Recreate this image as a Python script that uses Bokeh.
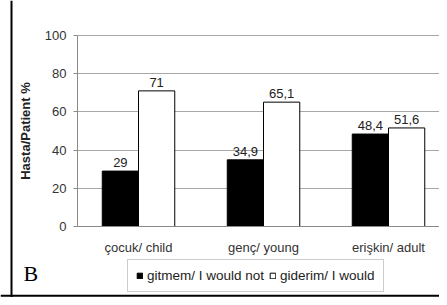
from bokeh.plotting import figure
from bokeh.models import (Range1d, FixedTicker, ColumnDataSource, LabelSet, Label, Legend,
                          LegendItem, Span)
from bokeh.embed import file_html
from bokeh.resources import INLINE
from bokeh.core.properties import value

categories = ["çocuk/ child", "genç/ young", "erişkin/ adult"]
would_not = [29, 34.9, 48.4]
would = [71, 65.1, 51.6]
would_not_lbl = ["29", "34,9", "48,4"]
would_lbl = ["71", "65,1", "51,6"]
series_names = ["gitmem/ I would not", "giderim/ I would"]
y_ticks = [0, 20, 40, 60, 80, 100]

FONT = "Liberation Sans"
pos = list(range(len(categories)))
off = 0.145
bw = 0.29

# plotting area geometry (data units)
X0, X1 = -0.488, 2.408     # left edge of chart area / right cut
XMIN = -1.104              # canvas left
YMIN, YMAX = -37.17, 118.32

p = figure(width=439, height=297, output_backend="svg", toolbar_location=None,
           x_range=Range1d(XMIN, X1), y_range=Range1d(YMIN, YMAX),
           min_border_left=0, min_border_right=0, min_border_top=0, min_border_bottom=0)
p.outline_line_color = None
p.background_fill_color = "white"

src_a = ColumnDataSource(dict(x=[i - off for i in pos], top=would_not, lbl=would_not_lbl))
src_b = ColumnDataSource(dict(x=[i + off for i in pos], top=would, lbl=would_lbl))

r1 = p.vbar(x="x", top="top", width=bw, source=src_a, fill_color="black", line_color="black", line_width=1)
r2 = p.vbar(x="x", top="top", width=bw, source=src_b, fill_color="white", line_color="black", line_width=1)

for s in (src_a, src_b):
    p.add_layout(LabelSet(x="x", y="top", text="lbl", source=s, y_offset=4, text_align="center",
                          text_baseline="bottom", text_font=value(FONT), text_font_size="13px",
                          text_color="#222222"))

# x axis at y = 0
xa = p.xaxis[0]
xa.fixed_location = 0
xa.bounds = (X0, X1)
xa.ticker = FixedTicker(ticks=pos)
xa.major_label_overrides = {i: c for i, c in zip(pos, categories)}
xa.major_tick_line_color = None
xa.minor_tick_line_color = None
xa.axis_line_color = "#8a8a8a"
xa.major_label_text_font = FONT
xa.major_label_text_font_size = "13px"
xa.major_label_text_color = "#333333"
xa.major_label_standoff = 7

# y axis at chart-area left edge
ya = p.yaxis[0]
ya.fixed_location = X0
ya.bounds = (0, 100)
ya.ticker = FixedTicker(ticks=y_ticks)
ya.axis_line_color = "#8a8a8a"
ya.major_tick_line_color = "#8a8a8a"
ya.major_tick_out = 4
ya.major_tick_in = 0
ya.minor_tick_line_color = None
ya.major_label_text_font = FONT
ya.major_label_text_font_size = "13px"
ya.major_label_text_color = "#333333"
ya.major_label_standoff = 7
ya.axis_label = "Hasta/Patient %"
ya.axis_label_text_font = FONT
ya.axis_label_text_font_style = "bold"
ya.axis_label_text_font_size = "13px"
ya.axis_label_text_color = "#222222"
ya.axis_label_standoff = 9

p.xgrid.grid_line_color = None
yg = p.ygrid[0]
yg.ticker = FixedTicker(ticks=y_ticks)
yg.grid_line_color = "#a8a8a8"
if "cross_bounds" in yg.properties():
    yg.cross_bounds = (X0, X1)

legend = Legend(items=[LegendItem(label=series_names[0], renderers=[r1]),
                       LegendItem(label=series_names[1], renderers=[r2])],
                orientation="horizontal", location=(127, 5),
                label_text_font=FONT, label_text_font_size="13.5px", label_text_color="#222222",
                glyph_width=7, glyph_height=7, label_standoff=4, spacing=5,
                padding=8, margin=0, border_line_color="#9a9a9a",
                label_height=15)
p.add_layout(legend, "center")

p.add_layout(Label(x=23, y=24, x_units="screen", y_units="screen", text="B",
                   text_baseline="alphabetic",
                   text_font="Liberation Serif", text_font_size="22px", text_color="black"))

# panel frame lines
p.add_layout(Span(location=-1.016, dimension="height", line_color="black", line_width=2))
p.add_layout(Span(location=-36.3, dimension="width", line_color="black", line_width=2))

open("out.html", "w").write(file_html(p, INLINE))
